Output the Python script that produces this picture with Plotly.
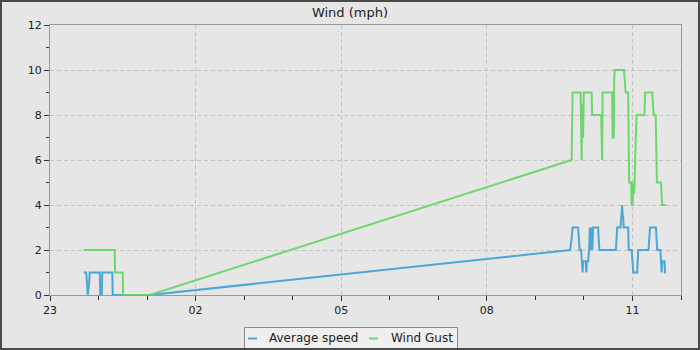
import pandas as pd
import plotly.graph_objects as go

# ---- data ----
start_time = "2024-05-01 23:00:00"
end_time = "2024-05-02 12:00:00"

# minutes after 23:00
avg_minutes = [41.7, 44.8, 45.8, 46.6, 48.3, 49.1, 61.5, 62.1, 64.0, 64.6, 77.0, 77.6, 123.3,
               642.9, 644.8, 646.0, 652.8, 653.8, 654.7, 656.5, 657.4, 658.4, 659.0, 662.1, 663.0,
               663.7, 665.2, 666.4, 667.3, 668.3, 669.3, 670.4, 671.4, 677.6, 678.2, 679.2, 699.5,
               700.2, 701.1, 705.2, 705.8, 706.6, 707.3, 707.9, 708.5, 709.1, 714.7, 715.4, 719.0,
               720.0, 721.1, 725.8, 726.4, 727.1, 739.8, 740.7, 741.7, 749.0, 749.7, 750.6, 754.5,
               755.3, 756.1, 757.0, 759.6, 760.3, 761.1]
avg_speed = [1, 1, 0.5, 0, 0.5, 1, 1, 0, 0, 1, 1, 0, 0,
             2, 2.5, 3, 3, 2.5, 2, 2, 1.5, 1, 1.5, 1.5, 1,
             1.5, 1.5, 2, 3, 2, 3, 2, 3, 3, 2.5, 2, 2,
             2.5, 3, 3, 3.5, 3.5, 4, 3.5, 3.5, 3, 3, 2, 2,
             1.5, 1, 1, 1.5, 2, 2, 2.5, 3, 3, 2.5, 2, 2,
             1.5, 1, 1.5, 1.5, 1, 1]

gust_minutes = [41.7, 80.0, 80.4, 89.9, 90.3, 123.3, 644.8, 646.0, 655.9, 656.5, 657.2, 658.2,
                659.0, 659.8, 669.5, 670.2, 681.3, 681.9, 682.5, 683.1, 694.9, 695.5, 696.9, 697.4,
                698.0, 709.5, 710.1, 711.0, 711.6, 714.7, 715.2, 715.9, 718.4, 719.0, 720.3, 720.9,
                721.9, 722.7, 724.0, 725.2, 734.8, 735.7, 744.4, 745.0, 745.6, 746.2, 748.7, 749.3,
                750.3, 755.3, 755.9, 756.7, 761.1]
wind_gust = [2, 2, 1, 1, 0, 0, 6, 9, 9, 7.5, 6, 8.5,
             7, 9, 9, 8, 8, 7, 6, 9, 9, 7, 7, 9.5,
             10, 10, 9.5, 9.5, 9, 9, 7, 5, 5, 4, 4, 5,
             4.5, 5, 7, 8, 8, 9, 9, 8.5, 8.5, 8, 8, 7,
             5, 5, 4.5, 4, 4]

series_names = ["Average speed", "Wind Gust"]
series_colors = ["#4ba6da", "#6ed66e"]
title_text = "Wind (mph)"

base = pd.Timestamp(start_time)
avg_t = [base + pd.Timedelta(minutes=m) for m in avg_minutes]
gust_t = [base + pd.Timedelta(minutes=m) for m in gust_minutes]

# ---- figure ----
W, H = 700, 350
ML, MR, MT, MB = 50, 19, 25, 55
PW, PH = W - ML - MR, H - MT - MB


def px_x(x):
    return (x - ML) / PW


def px_y(y):
    return (H - MB - y) / PH


fig = go.Figure()
fig.add_trace(go.Scatter(x=avg_t, y=avg_speed, mode="lines", name=series_names[0],
                         line=dict(color=series_colors[0], width=2), showlegend=False))
fig.add_trace(go.Scatter(x=gust_t, y=wind_gust, mode="lines", name=series_names[1],
                         line=dict(color=series_colors[1], width=2), showlegend=False))

font_family = "DejaVu Sans"
bg = "#e6e6e6"

fig.update_layout(
    width=W, height=H,
    margin=dict(l=ML, r=MR, t=MT, b=MB),
    paper_bgcolor=bg, plot_bgcolor=bg,
    font=dict(family=font_family, size=11, color="#222222"),
    title=dict(text=title_text, x=0.5, xref="container", xanchor="center",
               y=1 - 12 / H, yref="container", yanchor="middle",
               font=dict(family=font_family, size=13, color="#222222")),
    showlegend=False,
)

fig.update_xaxes(
    type="date", range=[start_time, end_time],
    tick0=start_time, dtick=3 * 3600 * 1000, tickformat="%H",
    ticks="outside", ticklen=5, tickcolor="#333333", tickwidth=1,
    showline=True, linecolor="#999999", linewidth=1, mirror=True,
    showgrid=True, gridcolor="#c2c2c2", griddash="4px,3px", gridwidth=1,
    zeroline=False,
    minor=dict(dtick=3600 * 1000, ticks="outside", ticklen=4, tickcolor="#333333", showgrid=False),
    tickfont=dict(family=font_family, size=11, color="#222222"),
)
fig.update_yaxes(
    range=[0, 12], dtick=2, tick0=0,
    ticks="outside", ticklen=5, tickcolor="#333333", tickwidth=1,
    showline=True, linecolor="#999999", linewidth=1, mirror=True,
    showgrid=True, gridcolor="#c2c2c2", griddash="4px,3px", gridwidth=1,
    zeroline=False,
    minor=dict(dtick=1, ticks="outside", ticklen=3, tickcolor="#333333", showgrid=False),
    tickfont=dict(family=font_family, size=11, color="#222222"),
)

shapes = []
# custom legend box
shapes.append(dict(type="rect", xref="paper", yref="paper",
                   x0=px_x(244.5), x1=px_x(457.5), y0=px_y(349), y1=px_y(327.5),
                   line=dict(color="#8c8c8c", width=1), fillcolor="#efefef", layer="above"))
legend_items = [(248, 257, 267), (369, 378, 389)]
annotations = []
for (sx0, sx1, tx), name, color in zip(legend_items, series_names, series_colors):
    shapes.append(dict(type="line", xref="paper", yref="paper",
                       x0=px_x(sx0), x1=px_x(sx1), y0=px_y(338.5), y1=px_y(338.5),
                       line=dict(color=color, width=2), layer="above"))
    annotations.append(dict(text=name, xref="paper", yref="paper", x=px_x(tx), y=px_y(337.5),
                            xanchor="left", yanchor="middle", showarrow=False,
                            font=dict(family=font_family, size=12, color="#222222")))
# outer dark border of the image
shapes.append(dict(type="rect", xref="paper", yref="paper",
                   x0=px_x(0), x1=px_x(W), y0=px_y(H), y1=px_y(0),
                   line=dict(color="#4a4a4a", width=4), fillcolor="rgba(0,0,0,0)", layer="above"))

fig.update_layout(shapes=shapes, annotations=annotations)

fig.write_html("out.html")
